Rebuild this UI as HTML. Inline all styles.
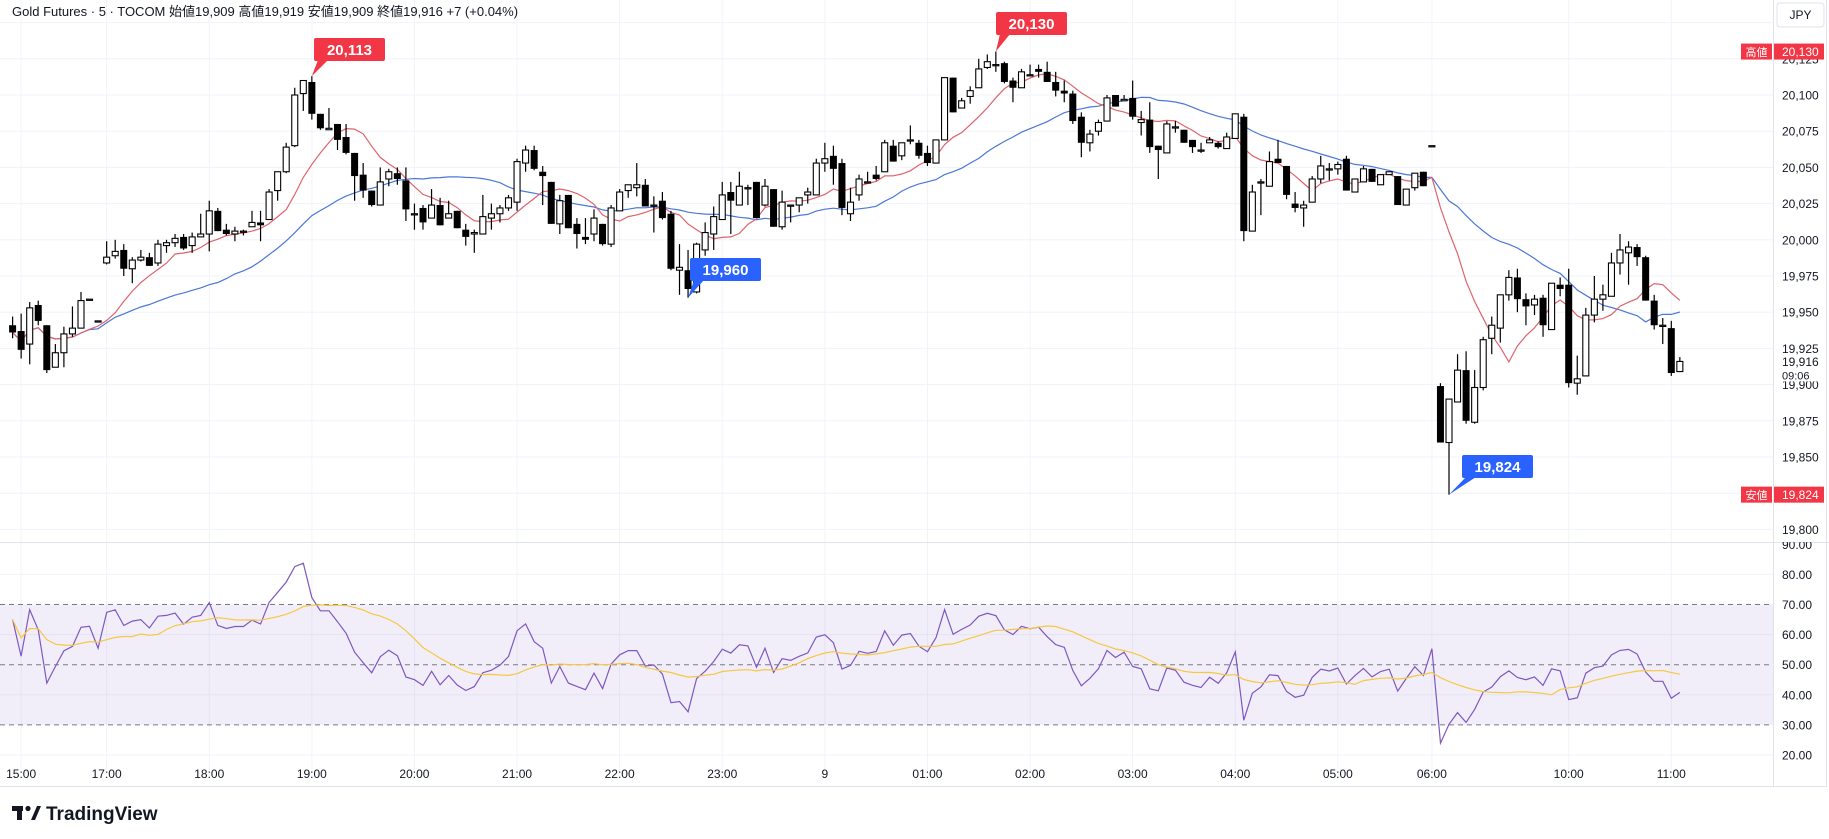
<!DOCTYPE html>
<html><head><meta charset="utf-8">
<style>
html,body{margin:0;padding:0;background:#fff;}
svg{display:block;font-family:"Liberation Sans","Noto Sans CJK JP",sans-serif;}
</style></head>
<body>
<svg id="chart" width="1829" height="839" viewBox="0 0 1829 839" xmlns="http://www.w3.org/2000/svg">
<rect x="0" y="0" width="1829" height="839" fill="#fff"/>
<g id="grid"></g>
<rect x="0" y="604.5" width="1773" height="120.4" fill="#7e57c2" fill-opacity="0.1"/>
<g id="rsiLines"></g>
<g id="ma"></g>
<g id="candles"></g>
<g id="axes"></g>
<g id="notes"></g>
<text x="12" y="16" font-size="13" fill="#131722">Gold Futures · 5 · TOCOM  始値19,909  高値19,919  安値19,909  終値19,916  +7 (+0.04%)</text>
<g>
<rect x="1777" y="3" width="47" height="24" rx="3" fill="#fff" stroke="#e0e3eb"/>
<text x="1800.5" y="19" font-size="12" text-anchor="middle" fill="#131722">JPY</text>
</g>
<g>
<rect x="12" y="806" width="11" height="5" fill="#131722"/><rect x="17" y="806" width="5" height="14" fill="#131722"/>
<circle cx="28" cy="808.5" r="2.6" fill="#131722"/><polygon points="31,820 37,806 41,806 35,820" fill="#131722"/>
<text x="46" y="820" font-size="19" font-weight="bold" fill="#131722">TradingView</text>
</g>
</svg>
<script>
const opens=[19941,19937,19928,19955,19941,19912,19922,19935,19939,19959,19944,19984,19989,19993,19980,19986,19988,19984,19996,19998,20002,19996,20002,20004,20020,20007,20004,20006,20009,20012,20014,20034,20047,20065,20101,20109,20087,20076,20080,20071,20060,20045,20034,20024,20042,20046,20041,20018,20022,20015,20024,20015,20020,20007,20004,20004,20015,20018,20022,20026,20053,20062,20047,20040,20011,20031,20011,20002,20004,20011,19997,20020,20034,20036,20038,20024,20027,20018,19979,19979,19964,19993,20004,20014,20033,20024,20036,20040,20024,20035,20009,20024,20024,20031,20031,20053,20058,20053,20018,20031,20040,20045,20047,20065,20058,20069,20067,20060,20053,20069,20112,20091,20099,20105,20119,20121,20122,20110,20105,20114,20118,20116,20109,20103,20101,20085,20067,20075,20082,20100,20096,20098,20081,20083,20065,20060,20078,20076,20069,20062,20067,20067,20063,20070,20085,20006,20040,20037,20056,20051,20025,20022,20026,20042,20049,20049,20056,20033,20040,20049,20038,20045,20044,20024,20036,20047,20065,19899,19860,19888,19910,19874,19898,19932,19939,19962,19974,19959,19955,19960,19938,19969,19969,19901,19906,19948,19959,19961,19984,19991,19995,19988,19958,19941,19939,19909];
const highs=[19947,19949,19957,19958,19941,19928,19940,19954,19964,19959,19944,19999,20000,19997,19988,19993,19991,20000,20000,20004,20004,20005,20018,20027,20022,20011,20009,20007,20020,20020,20035,20047,20067,20105,20110,20113,20087,20091,20080,20080,20060,20053,20034,20050,20049,20050,20050,20025,20024,20035,20029,20027,20020,20011,20007,20031,20025,20024,20031,20056,20065,20065,20051,20040,20031,20031,20015,20015,20021,20011,20024,20035,20038,20053,20042,20030,20033,20020,19997,19993,19998,20012,20023,20040,20040,20047,20038,20040,20042,20035,20034,20024,20029,20036,20056,20067,20065,20056,20036,20045,20047,20051,20069,20069,20067,20079,20069,20065,20069,20112,20112,20098,20106,20125,20128,20130,20123,20112,20118,20121,20121,20123,20116,20110,20103,20088,20076,20083,20100,20100,20100,20110,20089,20095,20065,20082,20082,20076,20069,20067,20071,20068,20074,20087,20087,20038,20042,20061,20069,20051,20033,20027,20044,20058,20053,20054,20058,20042,20051,20049,20045,20047,20044,20035,20046,20047,20065,19901,19890,19921,19923,19910,19933,19947,19962,19979,19980,19963,19962,19962,19970,19974,19980,19920,19953,19975,19969,19991,20004,19999,19997,19989,19962,19946,19944,19919];
const lows=[19932,19918,19914,19941,19908,19912,19912,19933,19939,19959,19944,19983,19987,19975,19970,19985,19982,19982,19991,19995,19993,19991,20002,19992,20006,20003,19999,20003,20009,19999,20014,20027,20046,20064,20089,20083,20076,20076,20062,20059,20027,20029,20023,20024,20037,20038,20013,20007,20007,20015,20010,20015,20008,19996,19991,20004,20007,20012,20020,20020,20047,20048,20024,20011,20004,20008,19994,19997,19999,19996,19995,20020,20029,20030,20023,20005,20014,19979,19962,19960,19963,19989,19993,20014,20004,20024,20024,20015,20023,20009,20007,20012,20019,20025,20031,20047,20038,20017,20013,20027,20039,20041,20047,20054,20055,20066,20056,20051,20053,20069,20088,20091,20094,20105,20118,20116,20108,20095,20105,20114,20112,20109,20099,20095,20080,20057,20061,20072,20082,20092,20096,20083,20072,20060,20042,20060,20074,20067,20060,20060,20067,20063,20063,20070,19999,20006,20017,20037,20053,20028,20019,20009,20026,20039,20041,20045,20034,20033,20040,20040,20038,20045,20024,20024,20034,20037,20065,19860,19824,19888,19873,19873,19896,19921,19929,19958,19950,19941,19948,19933,19938,19961,19898,19893,19906,19943,19951,19961,19976,19969,19982,19958,19938,19928,19906,19909];
const closes=[19936,19924,19953,19944,19910,19922,19935,19939,19958,19959,19944,19988,19992,19980,19986,19988,19982,19997,19998,20001,19994,20002,20004,20020,20006,20004,20006,20006,20012,20010,20033,20047,20064,20100,20110,20087,20077,20077,20069,20060,20044,20034,20024,20040,20047,20042,20021,20018,20012,20024,20010,20018,20008,20002,20005,20016,20018,20022,20029,20054,20062,20049,20044,20011,20027,20008,20004,20000,20015,19997,20022,20033,20038,20038,20023,20024,20015,19980,19981,19966,19997,20005,20016,20031,20027,20037,20036,20015,20037,20009,20026,20024,20029,20033,20053,20056,20049,20022,20026,20042,20040,20042,20067,20054,20067,20069,20058,20053,20069,20112,20088,20096,20103,20118,20123,20121,20109,20105,20116,20114,20116,20109,20103,20101,20082,20067,20073,20081,20098,20092,20097,20085,20083,20064,20062,20080,20078,20067,20064,20062,20069,20064,20071,20087,20006,20033,20040,20054,20053,20031,20022,20024,20042,20051,20049,20052,20034,20042,20049,20040,20045,20047,20024,20035,20046,20037,20065,19860,19890,19910,19875,19898,19931,19941,19962,19974,19959,19954,19959,19941,19970,19966,19901,19904,19948,19959,19962,19984,19993,19995,19988,19958,19941,19941,19908,19916];
const timeLabels=["15:00","17:00","18:00","19:00","20:00","21:00","22:00","23:00","9","01:00","02:00","03:00","04:00","05:00","06:00","10:00","11:00"];
const timeIdx=[1,11,23,35,47,59,71,83,95,107,119,131,143,155,166,182,194];
const priceTicks=[19800,19825,19850,19875,19900,19925,19950,19975,20000,20025,20050,20075,20100,20125,20150];
const rsiTicks=[20,30,40,50,60,70,80,90];
const fastLen=9, slowLen=25, rsiLen=14, rsiMaLen=14;
const rsiSeedGain=2.6, rsiSeedLoss=1.4;

const NS="http://www.w3.org/2000/svg";
const X=i=>12.6+i*8.55;
const Y=p=>95+(20100-p)*1.448;
const RY=r=>604.5+(70-r)*3.01;
function el(tag,attrs,parent){const e=document.createElementNS(NS,tag);for(const k in attrs)e.setAttribute(k,attrs[k]);parent.appendChild(e);return e;}
const fmt=v=>v.toLocaleString('en-US');

const grid=document.getElementById('grid');
priceTicks.forEach(p=>{const l=el('line',{x1:0,x2:1773,y1:Y(p),y2:Y(p),stroke:'#f0f3fa','stroke-width':1},grid);

});
[20,40,60,80].forEach(r=>{const l=el('line',{x1:0,x2:1773,y1:RY(r),y2:RY(r),stroke:'#f0f3fa'},grid);

});
timeIdx.forEach(i=>{const l=el('line',{x1:X(i),x2:X(i),y1:0,y2:770,stroke:'#f0f3fa'},grid);

});

// axes
const axes=document.getElementById('axes');
el('line',{x1:0,x2:1829,y1:542.5,y2:542.5,stroke:'#e0e3eb'},axes);
el('line',{x1:1773.5,x2:1773.5,y1:0,y2:787,stroke:'#e0e3eb'},axes);
el('line',{x1:0,x2:1826,y1:786.5,y2:786.5,stroke:'#e0e3eb'},axes);
el('line',{x1:1826.5,x2:1826.5,y1:0,y2:787,stroke:'#e0e3eb'},axes);
priceTicks.forEach(p=>{const y=Y(p);if(y<40||y>535)return;const t=el('text',{x:1782,y:y+4.5,'font-size':12,fill:'#131722'},axes);t.textContent=fmt(p);

});
rsiTicks.forEach(r=>{const t=el('text',{x:1782,y:RY(r)+4.5,'font-size':12,fill:'#131722'},axes);t.textContent=r.toFixed(2);

});
el('rect',{x:1774,y:535,width:52,height:7,fill:'#fff'},axes);
timeLabels.forEach((s,k)=>{const t=el('text',{x:X(timeIdx[k]),y:778,'font-size':12,'text-anchor':'middle',fill:'#131722'},axes);t.textContent=s;

});

// moving averages
function sma(arr,n){return arr.map((v,i)=>{const s=Math.max(0,i-n+1);let a=0;for(let j=s;j<=i;j++)a+=arr[j];return a/(i-s+1);});}
const ma=document.getElementById('ma');
const fast=sma(closes,fastLen), slow=sma(closes,slowLen);
const pl=(arr,fy)=>arr.map((v,i)=>X(i).toFixed(1)+','+fy(v).toFixed(1)).join(' ');
const mSlow=el('polyline',{points:pl(slow,Y),fill:'none',stroke:'#4a78d8','stroke-width':1.2},ma);


const mFast=el('polyline',{points:pl(fast,Y),fill:'none',stroke:'#e0636b','stroke-width':1.2},ma);



// candles
const cg=document.getElementById('candles');
closes.forEach((c,i)=>{const o=opens[i],x=X(i);const g=el('g',{},cg);


el('line',{x1:x,x2:x,y1:Y(highs[i]),y2:Y(lows[i]),stroke:'#000','stroke-width':1.2},g);
const top=Y(Math.max(o,c)),bot=Y(Math.min(o,c));const h=Math.max(bot-top,1.2);
if(c>=o) el('rect',{x:x-3,y:top,width:6,height:h,fill:'#fff',stroke:'#000','stroke-width':1.1},g);
else el('rect',{x:x-3.5,y:top,width:7,height:h,fill:'#000'},g);});

// RSI
const rg=document.getElementById('rsiLines');
[70,50,30].forEach(r=>{const l=el('line',{x1:0,x2:1773,y1:RY(r),y2:RY(r),stroke:'#787b86','stroke-dasharray':'5,4','stroke-width':1},rg);

});
let ag=rsiSeedGain, al=rsiSeedLoss;const rsi=[];
closes.forEach((c,i)=>{if(i>0){const d=c-closes[i-1];ag=(ag*(rsiLen-1)+Math.max(d,0))/rsiLen;al=(al*(rsiLen-1)+Math.max(-d,0))/rsiLen;}rsi.push(100-100/(1+ag/al));});
const rsiMa=sma(rsi,rsiMaLen);
const rl=el('polyline',{points:pl(rsi,RY),fill:'none',stroke:'#7e57c2','stroke-width':1.2},rg);


const rm=el('polyline',{points:pl(rsiMa,RY),fill:'none',stroke:'#f5c842','stroke-width':1.2},rg);



// annotations
const notes=document.getElementById('notes');
function callout(i,val,color,bx,by,name){const g=el('g',{},notes);


const px=X(i),py=Y(val);
el('polygon',{points:`${bx+4},${by+(py<by?0:22)} ${bx+14},${by+(py<by?0:22)} ${px},${py}`,fill:color},g);
el('rect',{x:bx,y:by,width:71,height:23,rx:2,fill:color},g);
const t=el('text',{x:bx+35.5,y:by+17,'font-size':15,'font-weight':'bold','text-anchor':'middle',fill:'#fff'},g);t.textContent=fmt(val);}
callout(35,highs[35],'#f23645',314,38,'high-callout-20113');
callout(115,Math.max(...highs),'#f23645',996,12,'high-callout-20130');
callout(79,lows[79],'#2962ff',690,258,'low-callout-19960');
callout(168,Math.min(...lows),'#2962ff',1462,455,'low-callout-19824');

function axisTag(label,val,name){const y=Y(val);const g=el('g',{},notes);


el('rect',{x:1741,y:y-8,width:31,height:16,fill:'#f23645'},g);
el('rect',{x:1774,y:y-8,width:50,height:16,fill:'#f23645'},g);
const a=el('text',{x:1756.5,y:y+4.5,'font-size':11,'text-anchor':'middle',fill:'#fff'},g);a.textContent=label;
const b=el('text',{x:1782,y:y+4.5,'font-size':12,fill:'#fff'},g);b.textContent=fmt(val);}
axisTag('高値',Math.max(...highs),'session-high-tag');
axisTag('安値',Math.min(...lows),'session-low-tag');

const last=closes[closes.length-1];const cy=Y(last);
const cp=el('g',{},notes);


el('rect',{x:1775,y:cy-7,width:50,height:27,fill:'#fff'},cp);
const t1=el('text',{x:1782,y:cy+4.5,'font-size':12,fill:'#131722'},cp);t1.textContent=fmt(last);
const t2=el('text',{x:1782,y:cy+18,'font-size':11,fill:'#131722'},cp);t2.textContent='09:06';
</script>
</body></html>
